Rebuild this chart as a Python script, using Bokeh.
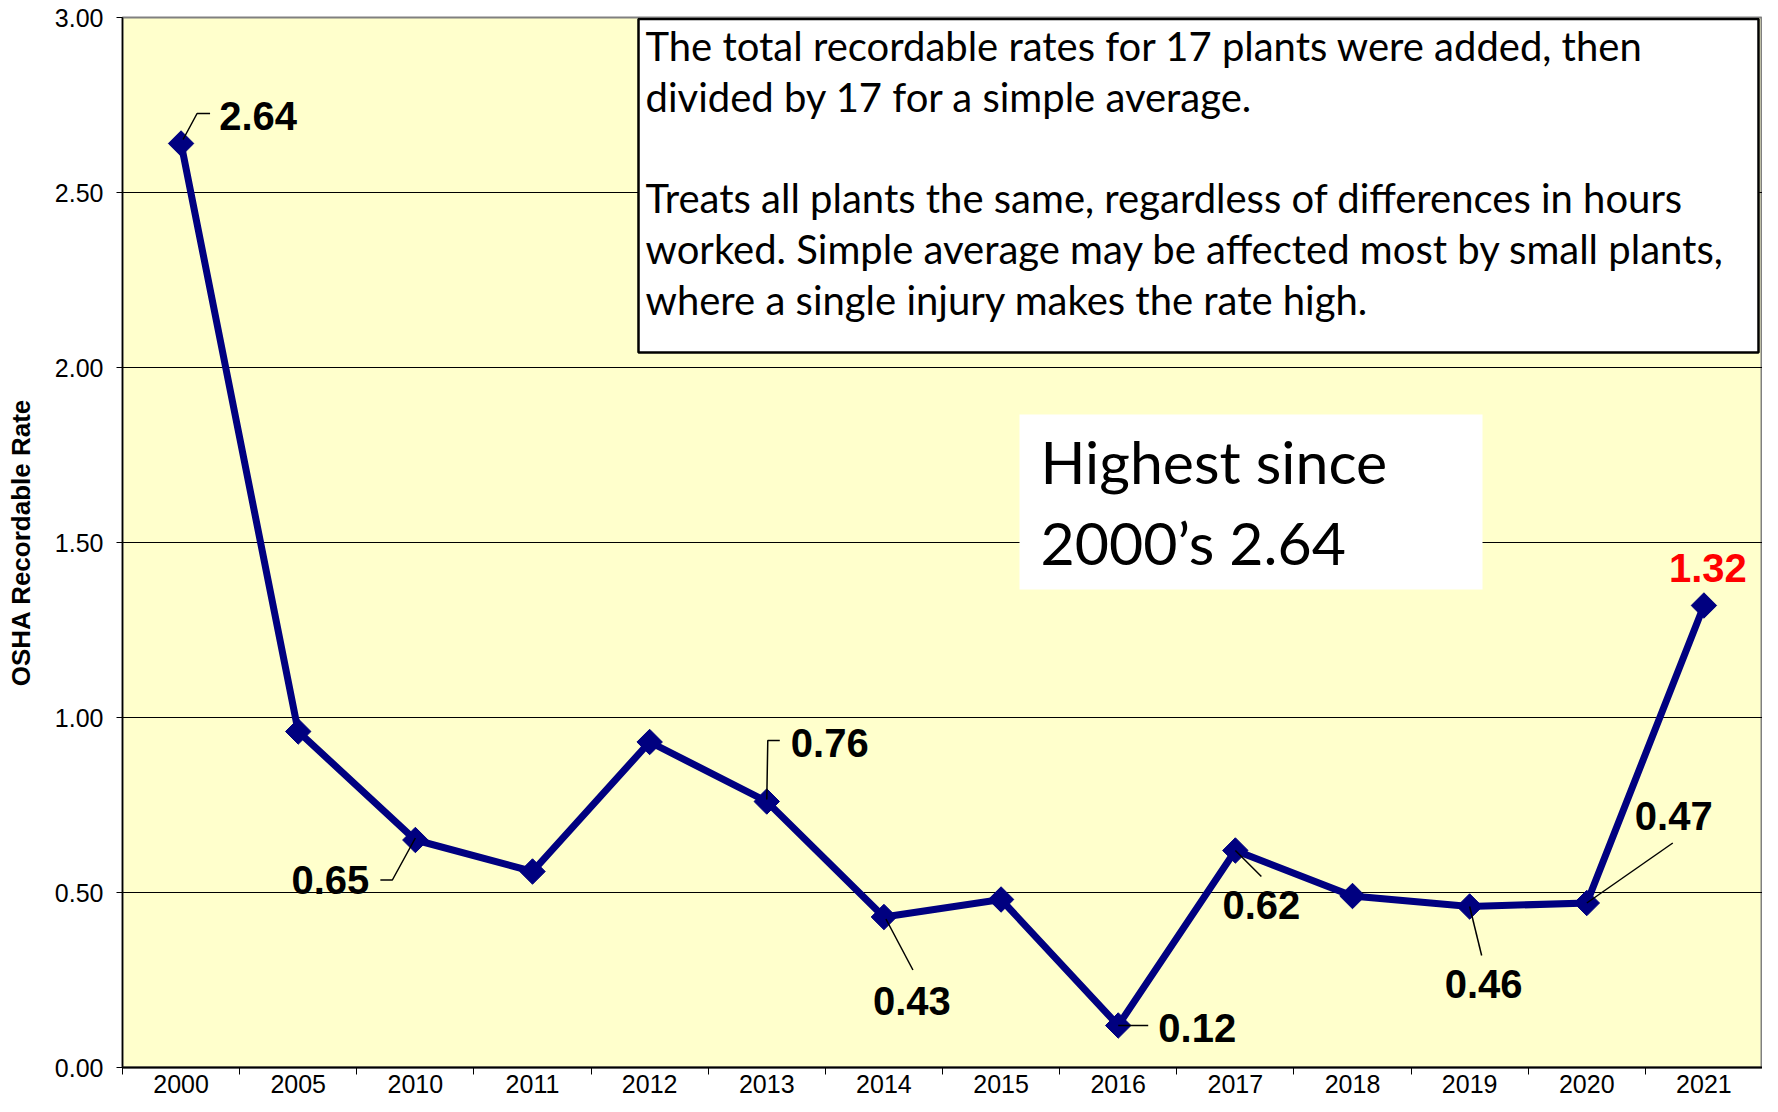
import math
from bokeh.plotting import figure
from bokeh.models import (ColumnDataSource, Range1d, FixedTicker, BoxAnnotation,
                          Label, NumeralTickFormatter)
from bokeh.core.properties import value
from bokeh.embed import file_html
from bokeh.resources import INLINE

# ---------------- data ----------------
years = ["2000", "2005", "2010", "2011", "2012", "2013", "2014",
         "2015", "2016", "2017", "2018", "2019", "2020", "2021"]
rates = [2.64, 0.96, 0.65, 0.56, 0.93, 0.76, 0.43,
         0.48, 0.12, 0.62, 0.49, 0.46, 0.47, 1.32]
labeled_years = ["2000", "2010", "2013", "2014", "2016", "2017", "2019", "2020", "2021"]
highlight_year = "2021"
y_ticks = [0.0, 0.5, 1.0, 1.5, 2.0, 2.5, 3.0]
y_axis_title = "OSHA Recordable Rate"
note_lines = [
    "The total recordable rates for 17 plants were added, then",
    "divided by 17 for a simple average.",
    "Treats all plants the same, regardless of differences in hours",
    "worked. Simple average may be affected most by small plants,",
    "where a single injury makes the rate high.",
]
callout_lines = ["Highest since", "2000\u2019s 2.64"]

# ---------------- layout / style ----------------
FIG_W, FIG_H = 1762, 1096
B_L, B_R, B_T, B_B = 122, 0, 17, 29
FRAME_W = FIG_W - B_L - B_R
FRAME_H = FIG_H - B_T - B_B
PAGE_LEFT, PAGE_TOP = B_L, B_T
X0, X1 = -0.5, len(years) - 0.5
Y0, Y1 = 0.0, 3.0
PPX = FRAME_W / (X1 - X0)
PPY = FRAME_H / (Y1 - Y0)


def page_x(px):
    return X0 + (px - PAGE_LEFT) / PPX


def page_y(py):
    return Y1 - (py - PAGE_TOP) / PPY


NAVY = "#000080"
ARIAL = "Liberation Sans"
CALIBRI = "Lato"

label_offsets = {
    "2000": (77, -28), "2010": (-85, 40), "2013": (63, -59), "2014": (28, 84),
    "2016": (79, 2), "2017": (26, 54), "2019": (14, 77), "2020": (87, -87),
    "2021": (4, -38),
}
leaders = {
    "2000": [(2, -4), (16, -30), (29, -30)],
    "2010": [(0, -2), (-23, 40), (-35, 40)],
    "2013": [(0, -2), (1, -61), (13, -61)],
    "2014": [(2, 2), (29, 53)],
    "2016": [(0, 0), (30, 0)],
    "2017": [(0, 0), (26, 26)],
    "2019": [(0, 0), (12, 49)],
    "2020": [(0, 0), (86, -60)],
}

xs = list(range(len(years)))

p = figure(width=FIG_W, height=FIG_H, output_backend="svg", toolbar_location=None,
           x_range=Range1d(X0, X1), y_range=Range1d(Y0, Y1),
           min_border_left=B_L, min_border_right=B_R,
           min_border_top=B_T, min_border_bottom=B_B)
p.background_fill_color = "#FFFFCC"
p.border_fill_color = "white"
p.outline_line_color = "#808080"
p.outline_line_width = 2

p.xaxis.ticker = FixedTicker(ticks=xs, minor_ticks=[i - 0.5 for i in range(len(years) + 1)])
p.xaxis.major_label_overrides = {i: y for i, y in enumerate(years)}
p.xaxis.major_tick_line_color = None
p.xaxis.major_tick_out = 0
p.xaxis.major_tick_in = 0
p.xaxis.minor_tick_line_color = "black"
p.xaxis.minor_tick_out = 7
p.xaxis.minor_tick_in = 0
p.xaxis.minor_tick_line_width = 1
p.xaxis.axis_line_color = "black"
p.xaxis.axis_line_width = 2
p.xaxis.major_label_text_font = ARIAL
p.xaxis.major_label_text_font_size = "25px"
p.xaxis.major_label_text_color = "black"
p.xaxis.major_label_standoff = 0

p.yaxis.ticker = FixedTicker(ticks=y_ticks)
p.yaxis.formatter = NumeralTickFormatter(format="0.00")
p.yaxis.major_tick_out = 6
p.yaxis.major_tick_in = 0
p.yaxis.minor_tick_line_color = None
p.yaxis.major_tick_line_color = "black"
p.yaxis.axis_line_color = "black"
p.yaxis.axis_line_width = 1.5
p.yaxis.major_label_text_font = ARIAL
p.yaxis.major_label_text_font_size = "25px"
p.yaxis.major_label_text_color = "black"
p.yaxis.major_label_standoff = 13
p.yaxis.axis_label = y_axis_title
p.yaxis.axis_label_text_font = ARIAL
p.yaxis.axis_label_text_font_size = "26px"
p.yaxis.axis_label_text_font_style = "bold"
p.yaxis.axis_label_text_color = "black"
p.yaxis.axis_label_standoff = 16

p.xgrid.grid_line_color = None
p.ygrid.ticker = FixedTicker(ticks=y_ticks)
p.ygrid.grid_line_color = "black"
p.ygrid.grid_line_width = 1

src = ColumnDataSource(dict(x=xs, y=rates))
p.line("x", "y", source=src, line_color=NAVY, line_width=7, line_join="miter")
p.scatter("x", "y", source=src, marker="square", angle=math.pi / 4, size=18,
          fill_color=NAVY, line_color=NAVY)

lx, ly = [], []
for yr, pts in leaders.items():
    i = years.index(yr)
    lx.append([xs[i] + dx / PPX for dx, dy in pts])
    ly.append([rates[i] - dy / PPY for dx, dy in pts])
p.multi_line(lx, ly, line_color="black", line_width=1.5)

tx, ty, tt, tc = [], [], [], []
for yr in labeled_years:
    i = years.index(yr)
    dx, dy = label_offsets[yr]
    tx.append(xs[i] + dx / PPX)
    ty.append(rates[i] - dy / PPY)
    tt.append(f"{rates[i]:.2f}")
    tc.append("#FF0000" if yr == highlight_year else "black")
lsrc = ColumnDataSource(dict(x=tx, y=ty, text=tt, color=tc))
p.text("x", "y", text="text", source=lsrc, text_color="color",
       text_font=value(ARIAL), text_font_style="bold", text_font_size="40px",
       text_align="center", text_baseline="middle")

p.add_layout(BoxAnnotation(left=page_x(638), right=page_x(1758), top=page_y(18.5), bottom=page_y(352),
                           fill_color="white", fill_alpha=1.0, line_color="black",
                           line_alpha=1.0, line_width=2.5))
note_baselines = [45, 96, 197, 248, 299]
for txt, by in zip(note_lines, note_baselines):
    p.add_layout(Label(x=page_x(645), y=page_y(by), text=txt, text_font=CALIBRI,
                       text_font_size="40px", text_color="black",
                       text_align="left", text_baseline="alphabetic"))

p.add_layout(BoxAnnotation(left=page_x(1019), right=page_x(1482), top=page_y(414), bottom=page_y(589),
                           fill_color="white", fill_alpha=1.0, line_color=None))
for txt, by in zip(callout_lines, [461, 542]):
    p.add_layout(Label(x=page_x(1040), y=page_y(by), text=txt, text_font=CALIBRI,
                       text_font_size="59px", text_color="black",
                       text_align="left", text_baseline="alphabetic"))

open("out.html", "w").write(file_html(p, INLINE))
